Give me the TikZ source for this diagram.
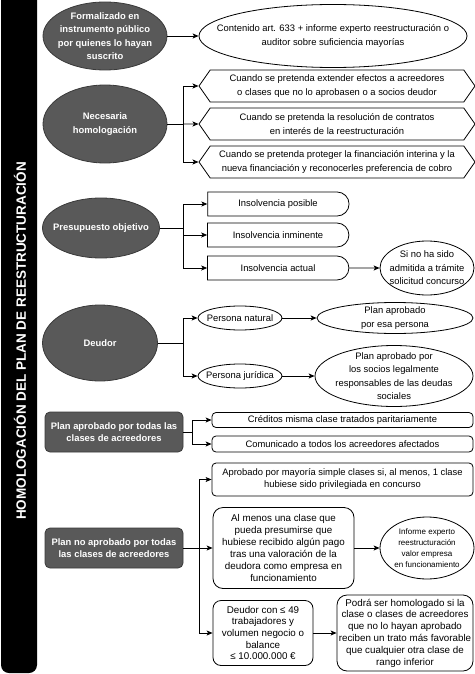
\documentclass[tikz,border=0pt]{standalone}
\usepackage{fontspec}
\setmainfont{Liberation Sans}
\usepackage{tikz}
\usetikzlibrary{shapes.geometric,shapes.misc,shapes.symbols,arrows.meta,positioning}
\definecolor{darkfillc}{HTML}{595959}
\definecolor{darklinec}{HTML}{3A3A3A}
\colorlet{textd}{white}
\newcommand{\diagfont}{\fontsize{9.4}{13.5}\selectfont}
\newcommand{\diagbold}{\fontsize{9.4}{13.5}\selectfont\bfseries}
\tikzstyle{darkoval} =[
    ellipse,
    draw=darklinec,
    fill=darkfillc,
    text=textd,
    font=\diagbold,
    align=center,
    inner xsep=-40pt,
    inner ysep=-12pt
    ]
\tikzstyle{lightoval} =[
    ellipse,
    draw=black,
    fill=white,
    font=\diagfont,
    align=center,
    inner xsep=-40pt,
    inner ysep=-12pt
    ]
\tikzstyle{darkbox} =[
    rectangle,
    rounded corners=5pt,
    draw=darklinec,
    fill=darkfillc,
    text=textd,
    font={\fontsize{9.4}{12}\selectfont\bfseries},
    align=center,
    minimum width=138pt,
    minimum height=40pt
    ]
\tikzstyle{lightbox} =[
    rectangle,
    rounded corners=4pt,
    draw=black,
    fill=white,
    font={\fontsize{9.4}{12}\selectfont},
    align=center,
    inner sep=0pt
    ]
\tikzstyle{hexbox} =[
    signal,
    signal to=west and east,
    signal pointer angle=110,
    draw=black,
    fill=white,
    font=\diagfont,
    align=center,
    inner xsep=1pt,
    minimum width=276pt,
    minimum height=32pt
    ]
\tikzstyle{halfround} =[
    rounded rectangle,
    rounded rectangle west arc=none,
    draw=black,
    fill=white,
    font=\diagfont,
    minimum width=148pt,
    minimum height=24pt
    ]
\tikzstyle{bartitle} =[
    rotate=90,
    text=textd,
    font={\fontsize{13.5}{16}\selectfont\bfseries}
    ]
\tikzstyle{arr} =[
    -{Stealth[length=6pt,width=5pt,inset=1.5pt]},
    line width=0.8pt
    ]

\begin{document}
\begin{tikzpicture}[x=1pt,y=-1pt,line width=0.8pt]
\useasboundingbox (0,0) rectangle (474,674);
\fill[black, rounded corners=8pt] (1,-10) rectangle (37,673);
\node[bartitle] (bar) at (20,341) {HOMOLOGACIÓN DEL PLAN DE REESTRUCTURACIÓN};

\node[darkoval, minimum width=124pt, minimum height=68pt] (form) at (105,36) {Formalizado en\\instrumento público\\por quienes lo hayan\\suscrito};
\node[lightoval, minimum width=268pt, minimum height=63pt] (cont) at (333,36) {Contenido art. 633 + informe experto reestructuración o\\auditor sobre suficiencia mayorías};
\draw[arr] (form) -- (cont);

\node[darkoval, minimum width=124pt, minimum height=78pt] (nec) at (105,124) {Necesaria\\homologación};
\node[hexbox] (hx1) at (337,86) {Cuando se pretenda extender efectos a acreedores\\o clases que no lo aprobasen o a socios deudor};
\node[hexbox] (hx2) at (337,124) {Cuando se pretenda la resolución de contratos\\en interés de la reestructuración};
\node[hexbox] (hx3) at (337,162) {Cuando se pretenda proteger la financiación interina y la\\nueva financiación y reconocerles preferencia de cobro};
\coordinate (jnec) at (183,124);
\draw[arr] (nec) -- (jnec) |- (hx1);
\draw[arr] (jnec) -- (hx2);
\draw[arr] (jnec) |- (hx3);

\node[darkoval, minimum width=117pt, minimum height=60pt] (pres) at (101,228) {Presupuesto objetivo};
\node[halfround] (ins1) at (278,204) {Insolvencia posible};
\node[halfround] (ins2) at (278,235) {Insolvencia inminente};
\node[halfround] (ins3) at (278,268) {Insolvencia actual};
\coordinate (jpre) at (183,228);
\draw[arr] (pres) -- (jpre) |- (ins1);
\draw[arr] (jpre) |- (ins2);
\draw[arr] (jpre) |- (ins3);
\node[lightoval, minimum width=94pt, minimum height=54pt] (sino) at (427,268) {Si no ha sido\\admitida a trámite\\solicitud concurso};
\draw[arr] (ins3) -- (sino);

\node[darkoval, minimum width=115pt, minimum height=76pt] (deu) at (100,343) {Deudor};
\node[lightoval, minimum width=84pt, minimum height=24pt] (pnat) at (240,318) {Persona natural};
\node[lightoval, minimum width=84pt, minimum height=24pt] (pjur) at (240,376) {Persona jurídica};
\coordinate (jdeu) at (183,343);
\draw[arr] (deu) -- (jdeu) |- (pnat);
\draw[arr] (jdeu) |- (pjur);
\node[lightoval, minimum width=156pt, minimum height=31pt] (pesa) at (395,318) {Plan aprobado\\por esa persona};
\node[lightoval, minimum width=158pt, minimum height=61pt] (psoc) at (394,376) {Plan aprobado por\\los socios legalmente\\responsables de las deudas\\sociales};
\draw[arr] (pnat) -- (pesa);
\draw[arr] (pjur) -- (psoc);

\node[darkbox] (todas) at (114,432) {Plan aprobado por todas las\\clases de acreedores};
\node[lightbox, minimum width=261pt, minimum height=15pt] (cred) at (342.5,420) {Créditos misma clase tratados paritariamente};
\node[lightbox, minimum width=261pt, minimum height=16pt] (com) at (342.5,444) {Comunicado a todos los acreedores afectados};
\coordinate (jtod) at (192,432);
\draw[arr] (todas) -- (jtod) |- (cred);
\draw[arr] (jtod) |- (com);

\node[darkbox] (noap) at (114,548) {Plan no aprobado por todas\\las clases de acreedores};
\node[lightbox, minimum width=261pt, minimum height=33pt] (mayo) at (342.5,479.5) {Aprobado por mayoría simple clases si, al menos, 1 clase\\hubiese sido privilegiada en concurso};
\node[lightbox, rounded corners=10pt, minimum width=141pt, minimum height=81pt, font={\fontsize{9.8}{12}\selectfont}] (alme) at (283.5,548) {Al menos una clase que\\pueda presumirse que\\hubiese recibido algún pago\\tras una valoración de la\\deudora como empresa en\\funcionamiento};
\node[lightoval, minimum width=94pt, minimum height=62pt, font={\fontsize{8}{11}\selectfont}] (inf) at (427,548) {Informe experto\\reestructuración\\valor empresa\\en funcionamiento};
\node[lightbox, rounded corners=8pt, minimum width=100pt, minimum height=65pt, font={\fontsize{9.8}{11.7}\selectfont}] (deuc) at (263,633) {Deudor con ≤ 49\\trabajadores y\\volumen negocio o\\balance\\≤ 10.000.000 €};
\node[lightbox, rounded corners=10pt, minimum width=136pt, minimum height=76pt, font={\fontsize{9.8}{11.8}\selectfont}] (podr) at (405,633) {Podrá ser homologado si la\\clase o clases de acreedores\\que no lo hayan aprobado\\reciben un trato más favorable\\que cualquier otra clase de\\rango inferior};
\coordinate (jno) at (199,548);
\draw[arr] (noap) -- (jno) |- (mayo);
\draw[arr] (jno) -- (alme);
\draw[arr] (jno) |- (deuc);
\draw[arr] (alme) -- (inf);
\draw[arr] (deuc) -- (podr);
\end{tikzpicture}
\end{document}
